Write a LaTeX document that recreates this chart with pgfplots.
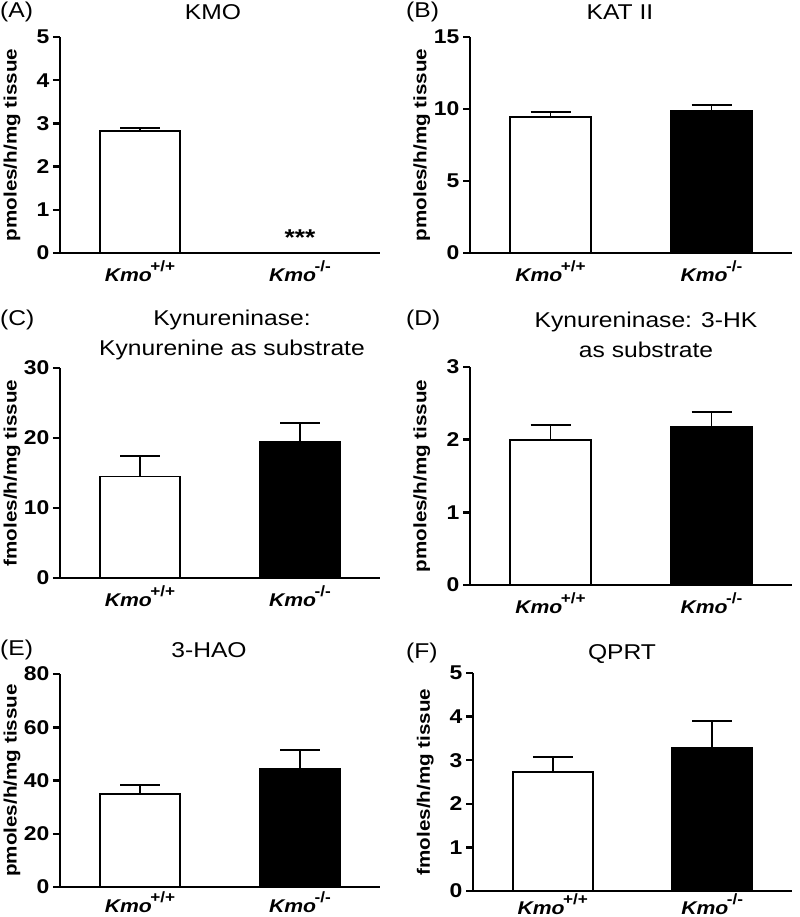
\documentclass[border=0pt]{standalone}
\usepackage{fontspec}
\setmainfont{Liberation Sans}[FakeStretch=1.15]
\usepackage{pgfplots}
\pgfplotsset{compat=1.18}
\newcommand{\kmo}[1]{\textbf{\textit{Kmo}}\kern-1.5bp\raisebox{1.0ex}{\fontsize{15}{15}\selectfont\bfseries #1}}
\pgfplotsset{
  panel/.style={
    scale only axis, width=320bp, xmin=0, xmax=4, ymin=0,
    enlargelimits=false, clip=false,
    axis x line=bottom, axis y line=left,
    axis line style={line width=2.5bp, -},
    tick align=outside, major tick length=7bp,
    ytick style={line width=2.5bp, black},
    xtick={1,3}, xtick style={draw=none},
    xticklabels={\kmo{+/+}, \kmo{-/-}},
    xticklabel style={font=\fontsize{18.5}{18.5}\selectfont, anchor=north, yshift=3bp},
    /pgf/number format/assume math mode=true,
    yticklabel style={font=\fontsize{20}{20}\selectfont\bfseries},
    ylabel style={font=\fontsize{18}{18}\selectfont\bfseries, at={(axis description cs:-0.15,0.5)}, anchor=center},
  },
  wt/.style={ybar, bar width=1, bar shift=0pt, fill=white, draw=black, line width=1.8bp,
    error bars/.cd, y dir=plus, y explicit,
    error bar style={line width=1.8bp, black},
    error mark options={rotate=90, mark size=20bp, line width=1.8bp, black}},
  ko/.style={ybar, bar width=1, bar shift=0pt, fill=black, draw=black, line width=1.8bp,
    error bars/.cd, y dir=plus, y explicit,
    error bar style={line width=1.8bp, black},
    error mark options={rotate=90, mark size=20bp, line width=1.8bp, black}},
}
\begin{document}
\begin{tikzpicture}
\useasboundingbox (0bp,0bp) rectangle (800bp,917bp);
% (A)
\begin{axis}[panel, at={(60bp,664bp)}, anchor=south west, height=216bp, ymax=5, ytick={0,1,2,3,4,5},
  ylabel={pmoles/h/mg tissue}]
\addplot[wt] coordinates {(1,2.82) +- (0,0.08)};
\addplot[ko] coordinates {(3,0) +- (0,0)};
\node[font=\fontsize{23}{23}\selectfont\bfseries] at (axis cs:3,0.36) {***};
\end{axis}
% (B)
\begin{axis}[panel, width=322bp, at={(470bp,664bp)}, anchor=south west, height=216bp, ymax=15, ytick={0,5,10,15},
  ylabel={pmoles/h/mg tissue}]
\addplot[wt] coordinates {(1,9.45) +- (0,0.35)};
\addplot[ko] coordinates {(3,9.85) +- (0,0.45)};
\end{axis}
% (C)
\begin{axis}[panel, at={(60bp,339bp)}, anchor=south west, height=210bp, ymax=30, ytick={0,10,20,30},
  ylabel={fmoles/h/mg tissue}]
\addplot[wt] coordinates {(1,14.5) +- (0,2.9)};
\addplot[ko] coordinates {(3,19.4) +- (0,2.7)};
\end{axis}
% (D)
\begin{axis}[panel, width=322bp, at={(470bp,332bp)}, anchor=south west, height=218bp, ymax=3, ytick={0,1,2,3},
  ylabel={pmoles/h/mg tissue}]
\addplot[wt] coordinates {(1,2.0) +- (0,0.2)};
\addplot[ko] coordinates {(3,2.17) +- (0,0.21)};
\end{axis}
% (E)
\begin{axis}[panel, at={(60bp,30bp)}, anchor=south west, height=213bp, ymax=80, ytick={0,20,40,60,80},
  ylabel={pmoles/h/mg tissue}, xticklabel style={yshift=3bp}]
\addplot[wt] coordinates {(1,35) +- (0,3.3)};
\addplot[ko] coordinates {(3,44.5) +- (0,7)};
\end{axis}
% (F)
\begin{axis}[panel, width=319bp, at={(473bp,26bp)}, anchor=south west, height=218bp, ymax=5, ytick={0,1,2,3,4,5},
  ylabel={fmoles/h/mg tissue}, xticklabel style={yshift=5bp}]
\addplot[wt] coordinates {(1,2.73) +- (0,0.35)};
\addplot[ko] coordinates {(3,3.29) +- (0,0.6)};
\end{axis}
% titles and panel letters
\begin{scope}[every node/.style={font=\fontsize{21.5}{30}\selectfont, inner sep=0pt}]
\node[anchor=west] at (0bp,905bp) {(A)};
\node at (213bp,905bp) {KMO};
\node[anchor=west] at (406bp,905bp) {(B)};
\node at (620bp,905bp) {KAT II};
\node[anchor=west] at (0bp,597bp) {(C)};
\node[align=center] at (232bp,582bp) {Kynureninase:\\Kynurenine as substrate};
\node[anchor=west] at (406bp,597bp) {(D)};
\node[align=center] at (646bp,582bp) {Kynureninase: 3-HK\\as substrate};
\node[anchor=west] at (0bp,267bp) {(E)};
\node at (209bp,267bp) {3-HAO};
\node[anchor=west] at (406bp,264bp) {(F)};
\node at (622bp,263bp) {QPRT};
\end{scope}
\end{tikzpicture}
\end{document}
